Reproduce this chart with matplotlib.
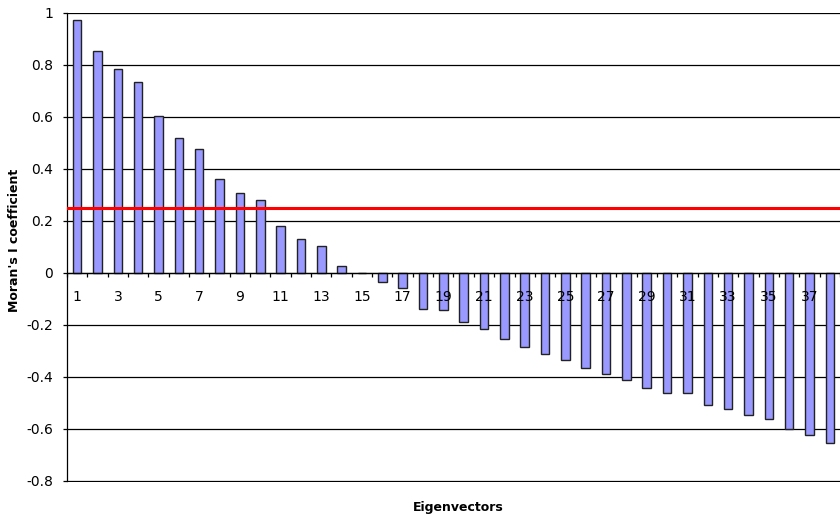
import matplotlib
matplotlib.use("Agg")
import matplotlib.pyplot as plt

# Moran's I per eigenvector
eigenvectors = list(range(1, 39))
morans_i = [0.973, 0.855, 0.786, 0.733, 0.603, 0.518, 0.477, 0.363, 0.309, 0.281,
            0.182, 0.130, 0.105, 0.028, 0.0, -0.036, -0.058, -0.138, -0.142, -0.188,
            -0.217, -0.253, -0.286, -0.313, -0.335, -0.367, -0.387, -0.413, -0.442, -0.462,
            -0.462, -0.508, -0.523, -0.547, -0.563, -0.601, -0.622, -0.653]
threshold = 0.25
y_ticks = [-0.8, -0.6, -0.4, -0.2, 0, 0.2, 0.4, 0.6, 0.8, 1]
y_tick_labels = ['-0.8', '-0.6', '-0.4', '-0.2', '0', '0.2', '0.4', '0.6', '0.8', '1']
x_tick_labels = [str(n) if n % 2 == 1 else '' for n in eigenvectors]

plt.rcParams['font.family'] = ['DejaVu Sans']

fig = plt.figure(figsize=(8.4, 5.15), dpi=100)
ax = fig.add_axes([67 / 840, 1 - 482 / 515, (840 - 67) / 840, 469 / 515])

# gridlines behind the bars, tick labels in front of them
for yv in y_ticks:
    ax.axhline(yv, color='black', linewidth=0.9, zorder=0.5)
ax.bar(eigenvectors, morans_i, width=0.42, color='#9999FF',
       edgecolor='#222222', linewidth=1.0, zorder=2)
ax.axhline(threshold, color='#FF0000', linewidth=2.2, zorder=4)
ax.set_axisbelow(False)

ax.set_xlim(0.5, 38.02)
ax.set_ylim(-0.804, 1.0)

# y axis
ax.set_yticks(y_ticks, y_tick_labels)
ax.tick_params(axis='y', direction='out', length=3, width=0.9, pad=7,
               labelsize=10, colors='black')

# x axis sits at zero, ticks between categories
ax.spines['bottom'].set_position(('data', 0))
ax.set_xticks([i + 0.5 for i in range(0, 39)], [])
ax.set_xticks(eigenvectors, x_tick_labels, minor=True)
ax.tick_params(axis='x', which='major', direction='out', length=3, width=0.9)
ax.tick_params(axis='x', which='minor', length=0, pad=12, labelsize=10)

for side in ['top', 'right']:
    ax.spines[side].set_visible(False)
ax.spines['left'].set_linewidth(0.9)
ax.spines['left'].set_bounds(-0.8, 1.0)
ax.spines['bottom'].set_linewidth(0.9)
ax.spines['bottom'].set_zorder(5)

ax.set_ylabel("Moran's I coefficient", fontsize=9, fontweight='bold')
ax.yaxis.set_label_coords(-0.06, 0.515)
ax.set_xlabel('Eigenvectors', fontsize=9, fontweight='bold')
ax.xaxis.set_label_coords(0.506, -0.04)

fig.savefig('out.png', dpi=100)
plt.close(fig)
